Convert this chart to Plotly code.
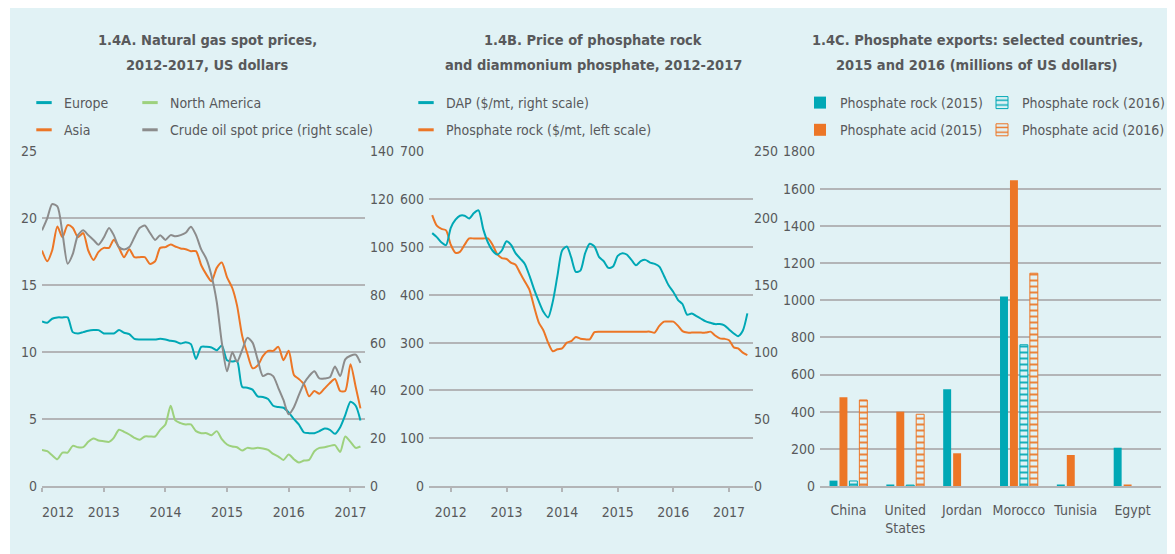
import numpy as np
import pandas as pd
import plotly.graph_objects as go

W, H = 1175, 554

# 1.4A - natural gas spot prices (US$/mmbtu) and crude oil (US$/bbl), monthly Jan 2012 - Mar 2017
gas_months = pd.date_range('2012-01-01', periods=63, freq='MS')
europe = [12.3, 12.2, 12.5, 12.6, 12.6, 12.6, 11.5, 11.4, 11.5, 11.6,
          11.65, 11.65, 11.4, 11.4, 11.4, 11.65, 11.45, 11.35, 11.0, 10.95,
          10.95, 10.95, 10.95, 11.0, 10.95, 10.85, 10.8, 10.65, 10.75, 10.6,
          9.5, 10.4, 10.4, 10.35, 10.15, 10.5, 9.4, 9.3, 9.35, 7.4,
          7.35, 7.2, 6.7, 6.65, 6.5, 6.0, 5.9, 5.85, 5.5, 5.0,
          4.6, 4.0, 3.95, 3.95, 4.1, 4.3, 4.2, 3.9, 4.4, 5.3,
          6.3, 6.0, 4.9]
asia = [17.6, 16.8, 17.6, 19.4, 18.6, 19.5, 19.3, 18.6, 18.9, 17.6,
        16.9, 17.5, 17.8, 17.8, 18.4, 17.8, 17.1, 17.7, 17.1, 17.1,
        17.1, 16.6, 16.8, 17.8, 17.85, 18.05, 17.9, 17.75, 17.7, 17.55,
        17.55, 16.5, 15.8, 15.3, 16.3, 16.7, 15.6, 14.8, 13.5, 11.2,
        9.9, 8.8, 9.0, 9.7, 10.1, 10.1, 10.4, 9.4, 10.1, 8.3,
        8.0, 7.6, 6.7, 7.1, 6.9, 7.3, 7.7, 8.0, 7.1, 7.1,
        9.1, 7.4, 5.8]
north_america = [2.7, 2.6, 2.3, 2.0, 2.5, 2.5, 3.0, 2.9, 2.9, 3.3,
                 3.55, 3.4, 3.35, 3.3, 3.6, 4.2, 4.05, 3.85, 3.6, 3.45,
                 3.7, 3.7, 3.7, 4.2, 4.6, 6.0, 4.9, 4.7, 4.6, 4.6,
                 4.1, 3.95, 3.95, 3.8, 4.1, 3.5, 3.1, 2.95, 2.9, 2.65,
                 2.85, 2.8, 2.85, 2.8, 2.7, 2.4, 2.2, 1.95, 2.35, 2.0,
                 1.75, 1.9, 1.95, 2.6, 2.85, 2.9, 3.0, 3.05, 2.55, 3.7,
                 3.3, 2.85, 2.95]
crude_oil = [107, 112, 118, 117, 106, 93, 97, 105, 107, 105,
             103, 101, 104, 108, 105, 100, 99, 100, 104, 108,
             109, 106, 103, 105, 103, 105, 104.5, 105, 106, 108.5,
             105, 99, 95, 88, 77, 60, 48, 56, 52, 57,
             62, 60, 53, 46, 47, 46, 41, 36, 30, 33,
             38, 43, 46, 48, 45, 45, 45.5, 50, 46, 53,
             54.5, 55, 51.5]

# 1.4B - DAP and phosphate rock ($/mt), monthly Sep 2011 - May 2017
phos_months = pd.date_range('2011-09-01', periods=69, freq='MS')
dap = [189, 186, 182, 180,
       193, 199, 202, 202, 200, 204, 206, 192, 182, 176,
       173, 176, 183, 180, 174, 170, 166, 157, 147, 138,
       130, 126, 138, 157, 176, 179, 171, 160, 161, 174,
       181, 179, 171, 168, 163, 164, 172, 174, 173, 169,
       165, 168, 169, 167, 166, 164, 157, 150, 145, 139,
       136, 128, 129, 127, 125, 123, 122, 121, 121, 120,
       117, 114, 112, 116, 129]
phosphate_rock = [567, 545, 538, 535,
                  505, 488, 490, 505, 518, 518, 518, 518, 518, 505,
                  485, 477, 475, 467, 463, 445, 428, 410, 375, 342,
                  325, 300, 282, 286, 288, 300, 303, 312, 308, 307,
                  307, 322, 323, 323, 323, 323, 323, 323, 323, 323,
                  323, 323, 323, 323, 321, 335, 344, 344, 344, 335,
                  324, 321, 321, 321, 321, 321, 323, 315, 309, 308,
                  305, 290, 288, 279, 274]

# 1.4C - phosphate exports (millions of US dollars)
countries = ['China', 'United<br>States', 'Jordan', 'Morocco', 'Tunisia', 'Egypt']
rock_2015 = [29, 5, 521, 1020, 5, 206]
acid_2015 = [478, 400, 176, 1645, 167, 5]
rock_2016 = [27, 5, None, 760, None, None]
acid_2016 = [463, 386, None, 1145, None, None]

year_ticks = pd.to_datetime(['2012-01-01', '2013-01-01', '2014-01-01',
                             '2015-01-01', '2016-01-01', '2017-01-01'])
year_labels = ['2012', '2013', '2014', '2015', '2016', '2017']

TEAL = '#00a8b5'
ORANGE = '#ec7626'
GREEN = '#9dd17d'
GREY = '#8c8c8c'
TEXT = '#58595b'
GRID = '#b3b5b7'
BG = '#e1f2f5'
FONT = 'DejaVu Sans Condensed, Liberation Sans Narrow, sans-serif'

# the page body has an 8px margin, so positions below are window pixels minus that
OFF = 8


def fx(px):
    return (px - OFF) / W


def fy(py):
    return 1 - (py - OFF) / H


def line(x, y, color, xa, ya):
    return go.Scatter(x=x, y=y, mode='lines', xaxis=xa, yaxis=ya, showlegend=False,
                      line=dict(color=color, width=2, shape='spline', smoothing=0.7))


def dash_key(name, color, xa, ya, legend):
    # short dash used as the legend key
    return go.Scatter(x=[None], y=[None], mode='markers', name=name, xaxis=xa, yaxis=ya,
                      legend=legend, legendgroup=name,
                      marker=dict(symbol='line-ew', size=11, line=dict(color=color, width=3)))


fig = go.Figure()

# panel A
fig.add_trace(line(gas_months, europe, TEAL, 'x', 'y'))
fig.add_trace(line(gas_months, asia, ORANGE, 'x', 'y'))
fig.add_trace(line(gas_months, north_america, GREEN, 'x', 'y'))
fig.add_trace(line(gas_months, crude_oil, GREY, 'x', 'y2'))
fig.add_trace(dash_key('Europe', TEAL, 'x', 'y', 'legend'))
fig.add_trace(dash_key('Asia', ORANGE, 'x', 'y', 'legend'))
fig.add_trace(dash_key('North America', GREEN, 'x', 'y', 'legend2'))
fig.add_trace(dash_key('Crude oil spot price (right scale)', GREY, 'x', 'y', 'legend2'))

# panel B
fig.add_trace(line(phos_months, dap, TEAL, 'x2', 'y4'))
fig.add_trace(line(phos_months, phosphate_rock, ORANGE, 'x2', 'y3'))
fig.add_trace(dash_key('DAP ($/mt, right scale)', TEAL, 'x2', 'y3', 'legend3'))
fig.add_trace(dash_key('Phosphate rock ($/mt, left scale)', ORANGE, 'x2', 'y3', 'legend3'))

# panel C
fig.add_trace(go.Bar(x=countries, y=rock_2015, name='Phosphate rock (2015)',
                     marker=dict(color=TEAL, line=dict(width=0)), legendgroup='r15',
                     xaxis='x3', yaxis='y5', legend='legend4'))
fig.add_trace(go.Bar(x=countries, y=acid_2015, name='Phosphate acid (2015)',
                     marker=dict(color=ORANGE, line=dict(width=0)), legendgroup='a15',
                     xaxis='x3', yaxis='y5', legend='legend4'))
fig.add_trace(go.Bar(x=countries, y=rock_2016, name='Phosphate rock (2016)',
                     marker=dict(color=BG, line=dict(color=TEAL, width=1),
                                 pattern=dict(shape='-', fgcolor=TEAL, bgcolor=BG,
                                              size=6, solidity=0.3)),
                     legendgroup='r16', xaxis='x3', yaxis='y5', legend='legend5'))
fig.add_trace(go.Bar(x=countries, y=acid_2016, name='Phosphate acid (2016)',
                     marker=dict(color=BG, line=dict(color=ORANGE, width=1),
                                 pattern=dict(shape='-', fgcolor=ORANGE, bgcolor=BG,
                                              size=6, solidity=0.3)),
                     legendgroup='a16', xaxis='x3', yaxis='y5', legend='legend5'))

tickfont = dict(family=FONT, size=14, color=TEXT)
ydom = [fy(486), fy(151.5)]

xcommon = dict(showline=True, linecolor=GRID, linewidth=2, showgrid=False, zeroline=False,
               ticks='outside', ticklen=4, tickcolor=GRID, tickwidth=1.5, automargin=False,
               tickfont=tickfont, ticklabelstandoff=8, fixedrange=True)
yleft = dict(showgrid=True, gridcolor=GRID, gridwidth=1.5, zeroline=False, showline=False,
             ticks='', tickfont=tickfont, automargin=False, ticklabelstandoff=4,
             fixedrange=True)
yright = dict(showgrid=False, zeroline=False, showline=False, ticks='', side='right',
              tickfont=tickfont, automargin=False, fixedrange=True)

legend_common = dict(bgcolor='rgba(0,0,0,0)', borderwidth=0, orientation='v',
                     xanchor='left', yanchor='top', y=fy(87), tracegroupgap=6,
                     font=dict(family=FONT, size=14, color=TEXT), itemclick=False)

fig.update_layout(
    template='none',
    width=W, height=H,
    margin=dict(l=0, r=0, t=0, b=0, autoexpand=False),
    paper_bgcolor='white', plot_bgcolor='rgba(0,0,0,0)',
    font=dict(family=FONT, color=TEXT),
    barmode='group', bargap=0.3, bargroupgap=0.2,
    xaxis=dict(domain=[fx(42), fx(365)], type='date', anchor='y',
               range=['2012-01-01', '2017-03-28'],
               tickmode='array', tickvals=year_ticks,
               ticktext=['\u00a0' * 8 + year_labels[0]] + year_labels[1:], **xcommon),
    yaxis=dict(domain=ydom, anchor='x', range=[0, 25], dtick=5, **yleft),
    yaxis2=dict(overlaying='y', anchor='x', range=[0, 140], dtick=20,
                ticklabelstandoff=4, **yright),
    xaxis2=dict(domain=[fx(429), fx(753)], type='date', anchor='y3',
                range=['2011-08-11', '2017-06-07'],
                tickmode='array', tickvals=year_ticks, ticktext=year_labels, **xcommon),
    yaxis3=dict(domain=ydom, anchor='x2', range=[0, 700], dtick=100, **yleft),
    yaxis4=dict(overlaying='y3', anchor='x2', range=[0, 250], dtick=50,
                ticklabelstandoff=0, **yright),
    xaxis3=dict(domain=[fx(820), fx(1161)], type='category', anchor='y5',
                showline=True, linecolor=GRID, linewidth=2, showgrid=False, tickangle=0,
                ticks='', tickfont=tickfont, ticklabelstandoff=10, automargin=False,
                fixedrange=True),
    yaxis5=dict(domain=ydom, anchor='x3', range=[0, 1800], dtick=200, **yleft),
    legend=dict(x=fx(24), **legend_common),
    legend2=dict(x=fx(130), **legend_common),
    legend3=dict(x=fx(406), **legend_common),
    legend4=dict(x=fx(800), **legend_common),
    legend5=dict(x=fx(982), **legend_common),
)

# light blue panel behind the three charts
fig.add_shape(type='rect', xref='paper', yref='paper', x0=fx(10), x1=fx(1172),
              y0=0, y1=1, fillcolor=BG, line=dict(width=0), layer='below')

titles = [
    (207, '1.4A. Natural gas spot prices,', '2012-2017, US dollars'),
    (593, '1.4B. Price of phosphate rock', 'and diammonium phosphate, 2012-2017'),
    (977, '1.4C. Phosphate exports: selected countries,', '2015 and 2016 (millions of US dollars)'),
]
for cx, first, second in titles:
    for cy, txt in ((40, first), (65, second)):
        fig.add_annotation(x=fx(cx), y=fy(cy), xref='paper', yref='paper', text=txt,
                           showarrow=False, xanchor='center', yanchor='middle',
                           font=dict(family=FONT, size=14.5, color=TEXT, weight='bold'))

fig.write_html('out.html')
